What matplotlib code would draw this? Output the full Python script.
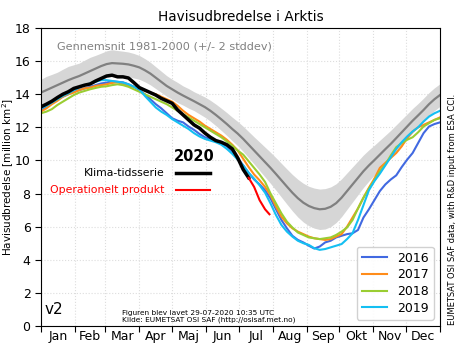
import numpy as np
import matplotlib
matplotlib.use("Agg")
import matplotlib.pyplot as plt
from matplotlib.lines import Line2D

# Day of year sampled every 5 days (0..365)
days = np.arange(0, 366, 5)

# 1981-2000 climatology (million km^2) and its +/- 2 stddev half-width
clim_mean = [
    14.10, 14.25, 14.40, 14.55, 14.70, 14.85, 14.98,            # Jan
    15.10, 15.25, 15.40, 15.55, 15.70,                          # Feb
    15.82, 15.88, 15.86, 15.84, 15.80, 15.72, 15.62,            # Mar
    15.45, 15.25, 15.00, 14.75, 14.50, 14.30,                   # Apr
    14.10, 13.92, 13.75, 13.58, 13.40, 13.22,                   # May
    13.00, 12.75, 12.48, 12.20, 11.90, 11.62,                   # Jun
    11.30, 10.95, 10.60, 10.25, 9.90, 9.55,                     # Jul
    9.18, 8.80, 8.42, 8.05, 7.72, 7.45,                         # Aug
    7.25, 7.12, 7.05, 7.08, 7.20, 7.42,                         # Sep
    7.75, 8.15, 8.55, 8.95, 9.35, 9.70,                         # Oct
    10.02, 10.35, 10.68, 11.00, 11.35, 11.70,                   # Nov
    12.05, 12.40, 12.72, 13.05, 13.40, 13.70, 13.95,            # Dec
]
clim_2sd = [
    0.80, 0.83, 0.80, 0.78, 0.81, 0.83, 0.80,
    0.78, 0.81, 0.83, 0.80, 0.78,
    0.80, 0.81, 0.78, 0.76, 0.75, 0.74, 0.72,
    0.70, 0.68, 0.66, 0.64, 0.62, 0.60,
    0.61, 0.58, 0.59, 0.57, 0.59, 0.61,
    0.63, 0.65, 0.67, 0.69, 0.71, 0.73,
    0.76, 0.79, 0.82, 0.86, 0.90, 0.94,
    0.98, 1.02, 1.06, 1.10, 1.14, 1.17,
    1.19, 1.21, 1.22, 1.22, 1.20, 1.17,
    1.14, 1.10, 1.06, 1.02, 0.98, 0.94,
    0.90, 0.87, 0.84, 0.82, 0.80, 0.78,
    0.76, 0.74, 0.72, 0.71, 0.70, 0.69, 0.68,
]

ext_2016 = [
    13.05, 13.25, 13.50, 13.70, 13.85, 14.00, 14.15,
    14.25, 14.35, 14.45, 14.55, 14.65,
    14.70, 14.78, 14.75, 14.72, 14.60, 14.45, 14.25,
    14.00, 13.70, 13.40, 13.15, 12.85, 12.55,
    12.40, 12.30, 12.05, 11.85, 11.60, 11.40,
    11.30, 11.15, 11.05, 10.85, 10.55, 10.15,
    9.70, 9.25, 8.85, 8.55, 8.20, 7.70,
    7.05, 6.40, 5.90, 5.45, 5.20, 5.05,
    4.85, 4.68, 4.80, 5.05, 5.15, 5.35,
    5.45, 5.55, 5.60, 5.80, 6.55, 7.05,
    7.60, 8.15, 8.55, 8.85, 9.10, 9.60,
    10.05, 10.45, 11.05, 11.65, 12.05, 12.20, 12.30,
]
ext_2017 = [
    12.95, 13.15, 13.40, 13.60, 13.85, 14.00, 14.10,
    14.25, 14.35, 14.40, 14.50, 14.55,
    14.60, 14.68, 14.72, 14.62, 14.50, 14.45, 14.35,
    14.20, 14.10, 14.00, 13.85, 13.70, 13.55,
    13.30, 13.00, 12.75, 12.55, 12.35, 12.10,
    11.90, 11.70, 11.50, 11.25, 10.95, 10.60,
    10.10, 9.60, 9.15, 8.80, 8.40, 7.90,
    7.20, 6.60, 6.20, 5.90, 5.70, 5.55,
    5.40, 5.30, 5.25, 5.20, 5.25, 5.40,
    5.55, 6.00, 6.55, 7.10, 7.75, 8.35,
    8.90, 9.55, 9.85, 10.15, 10.45, 10.85,
    11.35, 11.75, 12.00, 12.15, 12.30, 12.45, 12.60,
]
ext_2018 = [
    12.85, 12.95, 13.10, 13.35, 13.55, 13.75, 13.95,
    14.10, 14.20, 14.30, 14.38, 14.45,
    14.48, 14.55, 14.60, 14.55, 14.45, 14.30, 14.15,
    14.00, 13.85, 13.70, 13.55, 13.40, 13.20,
    13.00, 12.80, 12.60, 12.40, 12.20, 12.00,
    11.80, 11.60, 11.40, 11.15, 10.90, 10.60,
    10.35, 9.95, 9.55, 9.15, 8.70, 8.00,
    7.40, 6.80, 6.30, 5.95, 5.65, 5.50,
    5.35, 5.30, 5.25, 5.30, 5.35, 5.50,
    5.70, 5.95, 6.40, 7.10, 7.75, 8.30,
    8.80, 9.35, 9.75, 10.30, 10.80, 11.05,
    11.25, 11.40, 11.70, 12.05, 12.25, 12.45, 12.55,
]
ext_2019 = [
    13.15, 13.30, 13.50, 13.70, 13.90, 14.05, 14.25,
    14.40, 14.55, 14.65, 14.75, 14.85,
    14.85, 14.80, 14.75, 14.70, 14.60, 14.45, 14.30,
    13.90, 13.55, 13.20, 12.95, 12.75, 12.50,
    12.30, 12.10, 11.90, 11.65, 11.45, 11.30,
    11.20, 11.10, 10.95, 10.70, 10.40, 10.05,
    9.70, 9.25, 8.90, 8.50, 8.05, 7.40,
    6.70, 6.10, 5.70, 5.40, 5.15, 5.00,
    4.90, 4.70, 4.60, 4.65, 4.75, 4.85,
    4.95, 5.25, 5.60, 6.40, 7.30, 8.20,
    8.75, 9.20, 9.70, 10.20, 10.70, 11.10,
    11.45, 11.75, 12.00, 12.35, 12.65, 12.85, 13.00,
]

# 2020: climate data record (black) and operational product (red)
days_2020_cdr = np.arange(0, 191, 5)
ext_2020_cdr = [
    13.24, 13.40, 13.58, 13.80, 14.00, 14.15, 14.35,
    14.45, 14.55, 14.62, 14.80, 14.95,
    15.10, 15.15, 15.05, 15.05, 14.98, 14.70, 14.40,
    14.25, 14.10, 13.95, 13.75, 13.60, 13.45,
    13.05, 12.75, 12.45, 12.15, 11.95, 11.65,
    11.40, 11.20, 11.10, 10.95, 10.70, 10.15,
    9.45, 8.95,
]
days_2020_op = [190, 195, 200, 205, 209]
ext_2020_op = [8.95, 8.40, 7.60, 7.05, 6.75]

years = ["2016", "2017", "2018", "2019"]
year_series = [ext_2016, ext_2017, ext_2018, ext_2019]
year_colors = ["#4169e1", "#ff8c1a", "#9acd32", "#14bff2"]

month_labels = ["Jan", "Feb", "Mar", "Apr", "Maj", "Jun",
                "Jul", "Aug", "Sep", "Okt", "Nov", "Dec"]
month_starts = [0, 31, 59, 90, 120, 151, 181, 212, 243, 273, 304, 334, 365]

fig = plt.figure(figsize=(4.62, 3.47), dpi=100)
ax = fig.add_axes([0.0887, 0.0605, 0.8636, 0.8588])

mean = np.array(clim_mean)
sd = np.array(clim_2sd)
ax.fill_between(days, mean - sd, mean + sd, color="#d6d6d6", lw=0)
ax.plot(days, mean, color="#808080", lw=1.6)

handles = []
for name, vals, col in zip(years, year_series, year_colors):
    h, = ax.plot(days, vals, color=col, lw=1.5, label=name)
    handles.append(h)

ax.plot(days_2020_cdr, ext_2020_cdr, color="black", lw=2.5)
ax.plot(days_2020_op, ext_2020_op, color="red", lw=1.5)

ax.set_xlim(0, 365)
ax.set_ylim(0, 18)
ax.set_yticks(np.arange(0, 19, 2))
ax.set_xticks(month_starts)
ax.set_xticklabels([])
mids = [(a + b) / 2 for a, b in zip(month_starts[:-1], month_starts[1:])]
ax.set_xticks(mids, minor=True)
ax.set_xticklabels(month_labels, minor=True)
ax.tick_params(axis="x", which="minor", length=0, labelsize=9, pad=3)
ax.tick_params(axis="x", which="major", length=4)
ax.tick_params(axis="y", labelsize=9, length=4)
ax.grid(True, which="major", color="#dddddd", ls=":", lw=0.8)
ax.set_axisbelow(True)

ax.set_title("Havisudbredelse i Arktis", fontsize=9.8, pad=5)
ax.set_ylabel("Havisudbredelse [million km$^2$]", fontsize=7.5)
ax.yaxis.set_label_coords(-0.063, 0.5)

ax.text(0.04, 0.955, "Gennemsnit 1981-2000 (+/- 2 stddev)", transform=ax.transAxes,
        color="#808080", fontsize=8.1, va="top", ha="left")

# 2020 key
ax.text(0.383, 0.57, "2020", transform=ax.transAxes, fontsize=10.5,
        fontweight="bold", ha="center", va="center")
ax.text(0.31, 0.515, "Klima-tidsserie", transform=ax.transAxes, fontsize=7.8,
        ha="right", va="center")
ax.add_line(Line2D([0.338, 0.423], [0.515, 0.515], transform=ax.transAxes,
                   color="black", lw=2.5))
ax.text(0.31, 0.455, "Operationelt produkt", transform=ax.transAxes, fontsize=7.8,
        ha="right", va="center", color="red")
ax.add_line(Line2D([0.338, 0.423], [0.455, 0.455], transform=ax.transAxes,
                   color="red", lw=1.5))

ax.legend(handles=handles, loc="lower right", fontsize=9, handlelength=2.0,
          borderpad=0.4, labelspacing=0.3, framealpha=0.9, edgecolor="#cccccc")

ax.text(0.01, 0.03, "v2", transform=ax.transAxes, fontsize=11, ha="left", va="bottom")
ax.text(0.203, 0.055, "Figuren blev lavet 29-07-2020 10:35 UTC\n"
        "Kilde: EUMETSAT OSI SAF (http://osisaf.met.no)",
        transform=ax.transAxes, fontsize=5.3, ha="left", va="top", linespacing=1.1)

fig.text(0.979, 0.063, "EUMETSAT OSI SAF data, with R&D input from ESA CCI.",
         rotation=90, fontsize=6.0, ha="center", va="bottom")

fig.savefig("out.png", dpi=100)
